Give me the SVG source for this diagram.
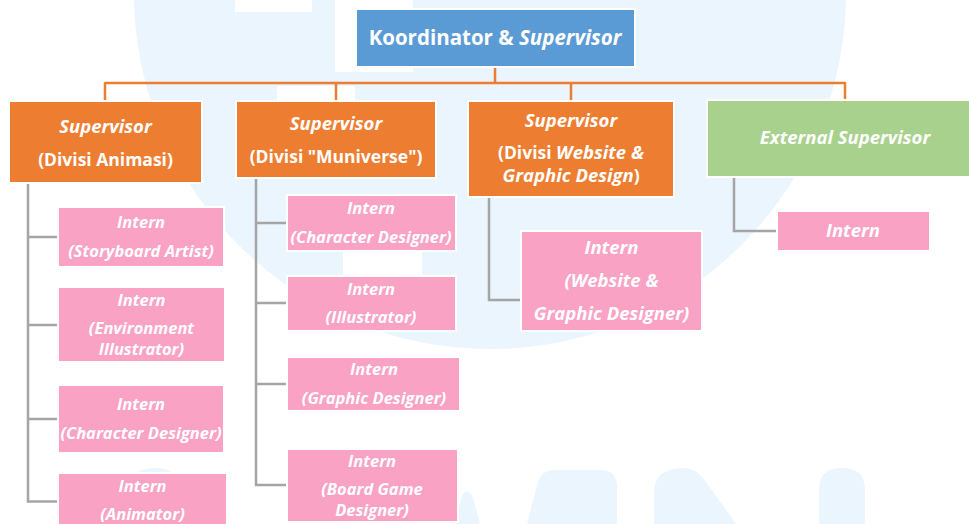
<svg xmlns="http://www.w3.org/2000/svg" width="969" height="524" viewBox="0 0 969 524">
<defs>
<style>
.wm{fill:#EBF5FE}
.wh{fill:#FFFFFF}
.box{stroke:#FFFFFF;stroke-width:2}
.blue{fill:#5B9BD5}
.orange{fill:#ED7D31}
.green{fill:#A9D18E}
.pink{fill:#F9A2C4}
.oline{fill:none;stroke:#ED7D31;stroke-width:2.5}
.gline{fill:none;stroke:#A5A5A5;stroke-width:2.5}
text{font-family:"Open Sans","Liberation Sans",sans-serif;font-weight:700;fill:#FFFFFF;text-anchor:middle}
.t1{font-size:20.5px}
.t2{font-size:17.5px}
.t2 .i,.t2i{font-size:18.5px;font-style:italic}
.t3{font-size:16.5px;font-style:italic}
.t4{font-size:18.5px;font-style:italic}
.i{font-style:italic}
</style>
</defs>
<rect width="969" height="524" fill="#FFFFFF"/>
<g id="watermark">
<circle class="wm" cx="490" cy="-7" r="356"/>
<rect class="wh" x="235" y="0" width="77" height="12"/>
<rect class="wh" x="335" y="0" width="78" height="72"/>
<rect class="wh" x="277" y="86" width="78" height="15"/>
<rect class="wh" x="343" y="250" width="79" height="25"/>
<path class="wm" d="M527 524 L538 482 Q541 470 556 470 L600 470 Q617 470 617 486 L617 524 Z"/>
<path class="wm" d="M654 524 L654 492 Q654 468 684 468 Q696 468 706 482 L736 524 Z"/>
<path class="wm" d="M819 524 L819 490 Q819 468 842 468 Q865 468 865 490 L865 524 Z"/>
<path class="wm" d="M130 524 L130 490 Q130 468 155 468 Q180 468 180 490 L180 524 Z"/>
<path class="wm" d="M455 524 L462 495 Q466 488 472 495 L480 524 Z"/>
</g>
<g id="connectors">
<path class="oline" d="M495 67 V83 M105 83 H845 M105 82 V100 M336 82 V100 M571 82 V100 M845 82 V100"/>
<path class="gline" d="M28 183 V501.5 H57 M28 237 H57 M28 325 H57 M28 419 H57"/>
<path class="gline" d="M256 178 V485 H286 M256 223 H286 M256 303 H286 M256 384 H286"/>
<path class="gline" d="M489 197 V300 H520"/>
<path class="gline" d="M734 177 V231 H776"/>
</g>
<g id="koordinator">
<rect class="box blue" x="356" y="9" width="279" height="58"/>
<text class="t1" x="495" y="44.5">Koordinator &amp; <tspan class="i">Supervisor</tspan></text>
</g>
<g id="sup-animasi">
<rect class="box orange" x="9" y="101" width="193" height="82"/>
<text class="t2i" x="105.5" y="133">Supervisor</text>
<text class="t2" x="105.5" y="166">(Divisi Animasi)</text>
</g>
<g id="sup-muniverse">
<rect class="box orange" x="236" y="101" width="200" height="77"/>
<text class="t2i" x="336" y="130">Supervisor</text>
<text class="t2" x="336" y="163">(Divisi "Muniverse")</text>
</g>
<g id="sup-website">
<rect class="box orange" x="468" y="101" width="206" height="96"/>
<text class="t2i" x="571" y="127">Supervisor</text>
<text class="t2" x="571" y="159">(Divisi <tspan class="i">Website &amp;</tspan></text>
<text class="t2" x="571" y="182"><tspan class="i">Graphic Design</tspan>)</text>
</g>
<g id="ext-supervisor">
<rect class="box green" x="707" y="100" width="270" height="77"/>
<text class="t2i" x="845" y="144">External Supervisor</text>
</g>
<g id="intern-storyboard">
<rect class="box pink" x="58" y="207" width="166" height="60"/>
<text class="t3" x="141" y="228">Intern</text>
<text class="t3" x="141" y="257">(Storyboard Artist)</text>
</g>
<g id="intern-environment">
<rect class="box pink" x="58" y="287" width="167" height="75"/>
<text class="t3" x="141.5" y="306">Intern</text>
<text class="t3" x="141.5" y="334">(Environment</text>
<text class="t3" x="141.5" y="355">Illustrator)</text>
</g>
<g id="intern-character-1">
<rect class="box pink" x="58" y="385" width="166" height="68"/>
<text class="t3" x="141" y="410">Intern</text>
<text class="t3" x="141" y="439">(Character Designer)</text>
</g>
<g id="intern-animator">
<rect class="box pink" x="58" y="473" width="169" height="60"/>
<text class="t3" x="142.5" y="492">Intern</text>
<text class="t3" x="142.5" y="520">(Animator)</text>
</g>
<g id="intern-character-2">
<rect class="box pink" x="287" y="195" width="169" height="56"/>
<text class="t3" x="371" y="214">Intern</text>
<text class="t3" x="371" y="243">(Character Designer)</text>
</g>
<g id="intern-illustrator">
<rect class="box pink" x="287" y="276" width="169" height="55"/>
<text class="t3" x="371" y="295">Intern</text>
<text class="t3" x="371" y="323">(Illustrator)</text>
</g>
<g id="intern-graphic">
<rect class="box pink" x="287" y="357" width="173" height="54"/>
<text class="t3" x="374" y="375">Intern</text>
<text class="t3" x="374" y="404">(Graphic Designer)</text>
</g>
<g id="intern-boardgame">
<rect class="box pink" x="287" y="449" width="171" height="73"/>
<text class="t3" x="372" y="467">Intern</text>
<text class="t3" x="372" y="495">(Board Game</text>
<text class="t3" x="372" y="516">Designer)</text>
</g>
<g id="intern-website">
<rect class="box pink" x="521" y="231" width="181" height="100"/>
<text class="t4" x="611.5" y="254">Intern</text>
<text class="t4" x="611.5" y="287">(Website &amp;</text>
<text class="t4" x="611.5" y="320">Graphic Designer)</text>
</g>
<g id="intern-external">
<rect class="box pink" x="777" y="211" width="153" height="40"/>
<text class="t4" x="853" y="237">Intern</text>
</g>
</svg>
